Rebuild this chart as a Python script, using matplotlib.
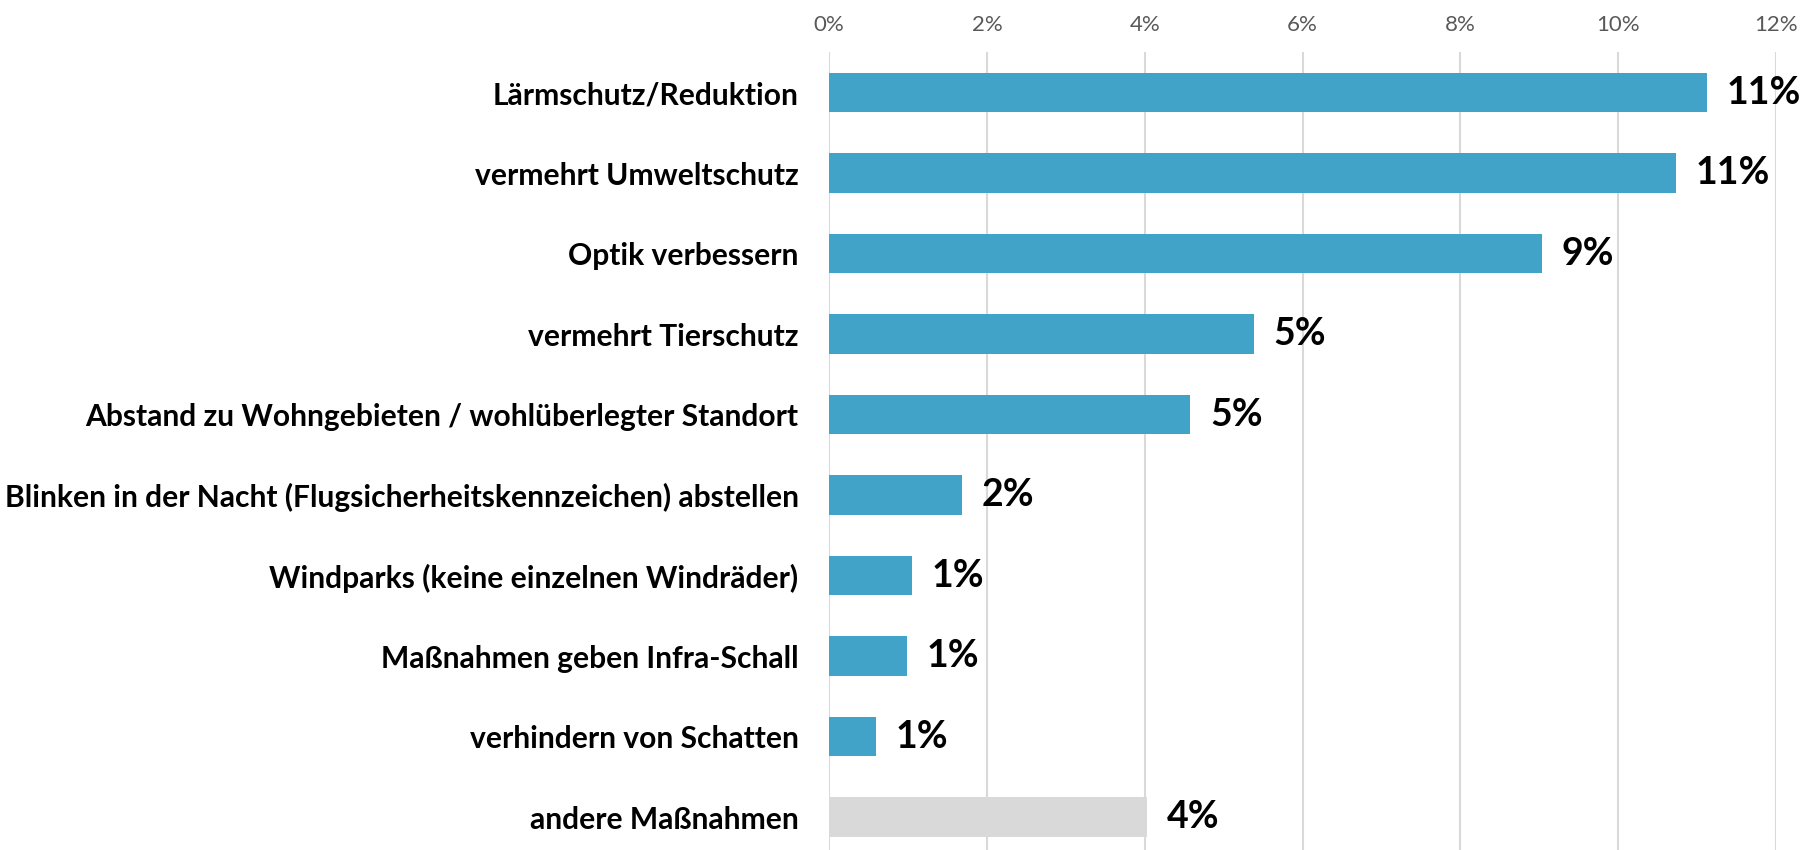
import matplotlib
matplotlib.use("Agg")
import matplotlib.pyplot as plt

categories = [
    "Lärmschutz/Reduktion",
    "vermehrt Umweltschutz",
    "Optik verbessern",
    "vermehrt Tierschutz",
    "Abstand zu Wohngebieten / wohlüberlegter Standort",
    "Blinken in der Nacht (Flugsicherheitskennzeichen) abstellen",
    "Windparks (keine einzelnen Windräder)",
    "Maßnahmen geben Infra-Schall",
    "verhindern von Schatten",
    "andere Maßnahmen",
]
values = [11.13, 10.73, 9.03, 5.38, 4.58, 1.68, 1.05, 0.99, 0.59, 4.03]
value_labels = ["11%", "11%", "9%", "5%", "5%", "2%", "1%", "1%", "1%", "4%"]
ticks = [0, 2, 4, 6, 8, 10, 12]

blue = "#41A3C8"
grey = "#D9D9D9"
colors = [blue] * 9 + [grey]

plt.rcParams["font.family"] = ["Lato", "DejaVu Sans"]

fig = plt.figure(figsize=(18.17, 8.5), dpi=100)
ax = fig.add_axes([0.4563, 0.0, 0.5211, 0.9388])

ypos = list(range(len(categories)))
ax.barh(ypos, values, height=0.49, color=colors, zorder=3)

for y, v, lab in zip(ypos, values, value_labels):
    ax.text(v + 0.25, y, lab, va="center", ha="left",
            fontsize=27, fontweight="bold", color="black")

ax.set_xlim(0, 12)
ax.set_ylim(9.41, -0.505)
ax.set_yticks(ypos)
ax.set_yticklabels(categories, fontsize=21.6, fontweight="bold")
ax.tick_params(axis="y", length=0, pad=22)

ax.xaxis.tick_top()
ax.set_xticks(ticks)
ax.set_xticklabels([f"{t}%" for t in ticks], fontsize=16, color="#595959")
ax.tick_params(axis="x", length=0, pad=12)
ax.grid(axis="x", color=grey, linewidth=1.5, zorder=0)

for s in ax.spines.values():
    s.set_visible(False)

fig.savefig("out.png", dpi=100)
